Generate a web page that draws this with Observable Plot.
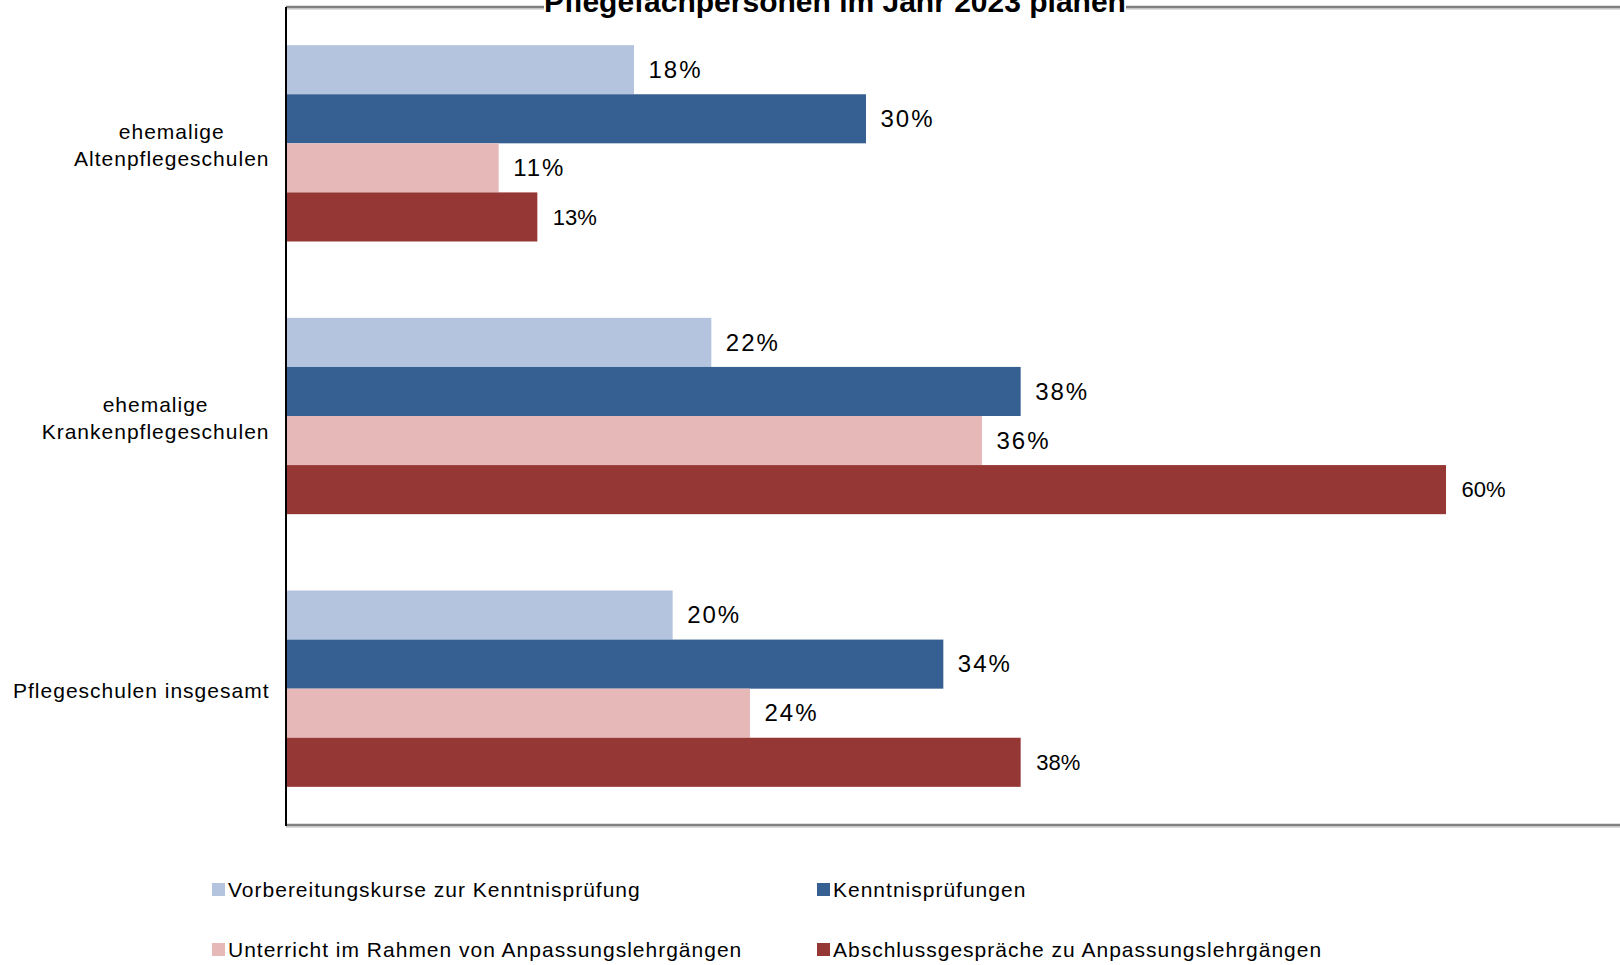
<!DOCTYPE html>
<html><head><meta charset="utf-8">
<script src="https://cdn.jsdelivr.net/npm/d3@7"></script>
<script src="https://cdn.jsdelivr.net/npm/@observablehq/plot@0.6"></script>
<style>
html,body{margin:0;padding:0;background:#fff;overflow:hidden;}
#wrap{position:relative;width:1620px;height:965px;font-family:"Liberation Sans",Arial,sans-serif;color:#000;}
#chart svg{display:block;}
#title{position:absolute;left:435px;width:800px;top:-13px;text-align:center;font-weight:bold;font-size:30px;line-height:30px;}
#title span{background:#fff;}
.leg{position:absolute;display:flex;align-items:center;height:26px;font-size:21px;letter-spacing:1px;white-space:nowrap;}
.sw{width:13px;height:13px;margin-right:3px;flex:none;}
</style></head>
<body>
<div id="wrap">
  <div id="chart"></div>
  <div id="title"><span>Pflegefachpersonen im Jahr 2023 planen</span></div>
  <div id="legend"></div>
</div>
<script>
// ---- data ----
const categories = ["ehemalige\nAltenpflegeschulen", "ehemalige\nKrankenpflegeschulen", "Pflegeschulen insgesamt"];
const seriesNames = [
  "Vorbereitungskurse zur Kenntnisprüfung",
  "Kenntnisprüfungen",
  "Unterricht im Rahmen von Anpassungslehrgängen",
  "Abschlussgespräche zu Anpassungslehrgängen"
];
const vorbereitungskurse = [18, 22, 20];
const kenntnispruefungen = [30, 38, 34];
const unterricht = [11, 36, 24];
const abschlussgespraeche = [13, 60, 38];
const colors = ["#B4C4DE", "#376092", "#E6B9B8", "#953735"];

const seriesValues = [vorbereitungskurse, kenntnispruefungen, unterricht, abschlussgespraeche];
const rows = [];
categories.forEach((c, i) => seriesNames.forEach((s, j) => rows.push({category: c, series: s, value: seriesValues[j][i]})));

const plot = Plot.plot({
  width: 1620, height: 850,
  marginLeft: 286, marginRight: 0, marginTop: 7, marginBottom: 25,
  style: {fontFamily: "'Liberation Sans', Arial, sans-serif", fontSize: "21px", color: "#000", background: "#fff"},
  facet: {data: rows, y: "category"},
  fy: {domain: categories, paddingInner: 0.28, paddingOuter: 0.14, round: false, axis: null, label: null},
  y: {domain: seriesNames, padding: 0, round: false, axis: null, label: null},
  x: {domain: [0, 69], axis: null, round: false},
  color: {domain: seriesNames, range: colors},
  marks: [
    Plot.barX(rows, {x: "value", y: "series", fill: "series"}),
    Plot.text(rows, {filter: d => d.series !== seriesNames[3], x: "value", y: "series", text: d => d.value + "%",
      textAnchor: "start", dx: 14, fontSize: 24, fill: "#000"}),
    Plot.text(rows, {filter: d => d.series === seriesNames[3], x: "value", y: "series", text: d => d.value + "%",
      textAnchor: "start", dx: 15, fontSize: 22, fill: "#000"}),
    Plot.text(rows, {filter: d => d.series === seriesNames[0], text: "category", frameAnchor: "left",
      textAnchor: "end", dx: -17, lineHeight: 1.3, fontSize: 21, fill: "#000"})
  ]
});
document.getElementById("chart").appendChild(plot);

// letter spacing for the wider labels
plot.querySelectorAll("text").forEach(t => {
  if (t.querySelectorAll("tspan").length > 1 || /[A-Za-z]/.test(t.textContent)) t.style.letterSpacing = "1px";
  else if (/%$/.test(t.textContent)) {
    const g = t.closest("g[font-size]");
    const size = g ? parseFloat(g.getAttribute("font-size")) : 21;
    if (size >= 24) t.style.letterSpacing = "2px";
  }
});

// center multi-line category labels within their (right-aligned) block
plot.querySelectorAll("text").forEach(t => {
  const spans = t.querySelectorAll("tspan");
  if (spans.length < 2) return;
  let w = 0;
  spans.forEach(s => { w = Math.max(w, s.getComputedTextLength()); });
  t.setAttribute("text-anchor", "middle");
  spans.forEach(s => {
    const x0 = parseFloat(s.getAttribute("x") || 0);
    s.setAttribute("x", x0 - w / 2);
  });
});

// chart-area border lines
const xs = plot.scale("x");
const fys = plot.scale("fy");
const [xa, xb] = xs.range;
const [ya, yb] = fys ? fys.range : [7, 825];
const svg = d3.select(plot);
const gb = svg.append("g").attr("aria-label", "frame");
[ya, yb].forEach(y => {
  gb.append("line").attr("x1", xa).attr("x2", xb).attr("y1", y + 2).attr("y2", y + 2).attr("stroke", "#d0d0d0").attr("stroke-width", 1.5);
  gb.append("line").attr("x1", xa).attr("x2", xb).attr("y1", y).attr("y2", y).attr("stroke", "#808080").attr("stroke-width", 2.5);
});
gb.append("line").attr("x1", xa).attr("x2", xa).attr("y1", ya).attr("y2", yb + 1).attr("stroke", "#000").attr("stroke-width", 2);

// legend
const legPos = [
  {left: 212, top: 876.5}, {left: 817, top: 876.5},
  {left: 212, top: 936.5}, {left: 817, top: 936.5}
];
const legend = document.getElementById("legend");
seriesNames.forEach((s, i) => {
  const d = document.createElement("div");
  d.className = "leg";
  d.style.left = legPos[i].left + "px";
  d.style.top = legPos[i].top + "px";
  const sw = document.createElement("div");
  sw.className = "sw";
  sw.style.background = colors[i];
  const tx = document.createElement("span");
  tx.textContent = s;
  d.appendChild(sw); d.appendChild(tx);
  legend.appendChild(d);
});
</script>
</body></html>
